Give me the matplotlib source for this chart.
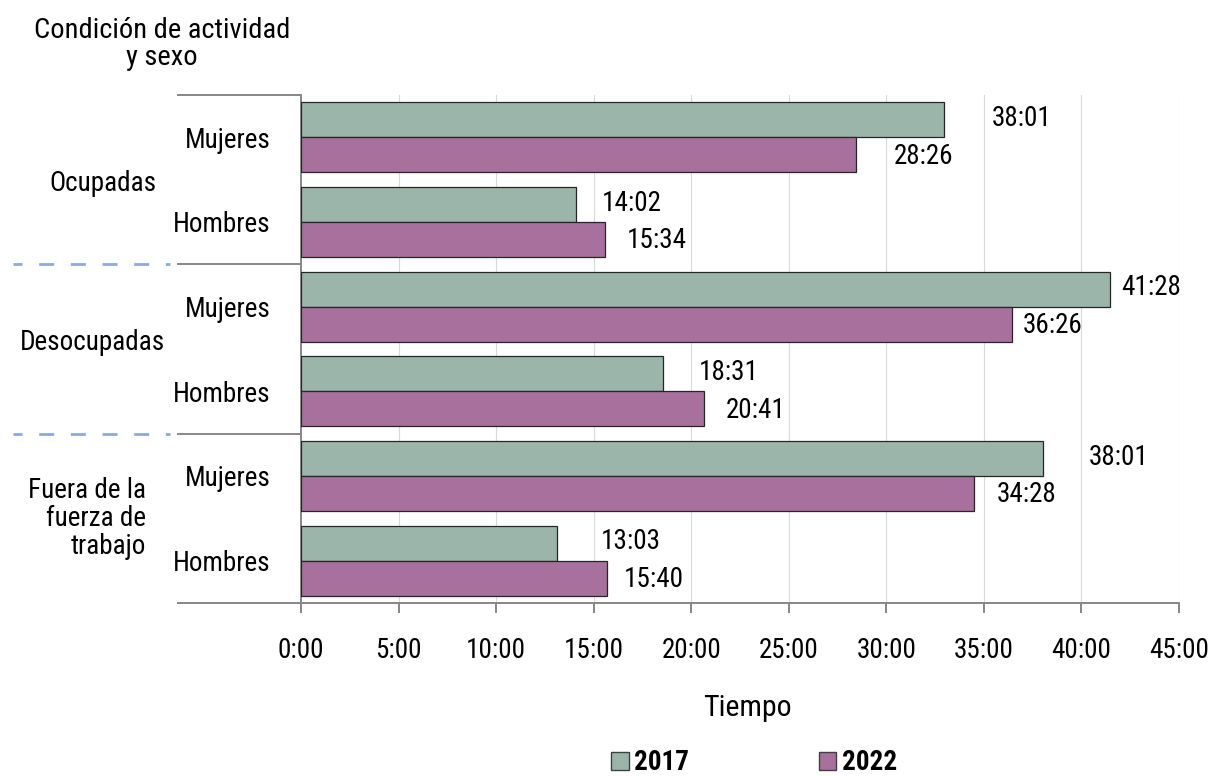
import matplotlib
matplotlib.use("Agg")
import matplotlib.pyplot as plt
import matplotlib.transforms as mtransforms
from matplotlib import font_manager
from matplotlib.patches import Patch
import numpy as np

# datos (horas semanales)
grupos = ["Ocupadas", "Desocupadas", "Fuera de la\nfuerza de\ntrabajo"]
sexos = ["Mujeres", "Hombres", "Mujeres", "Hombres", "Mujeres", "Hombres"]
horas_2017 = [32.97, 14.08, 41.47, 18.55, 38.02, 13.10]
horas_2022 = [28.43, 15.60, 36.45, 20.67, 34.47, 15.70]
etiq_2017 = ["38:01", "14:02", "41:28", "18:31", "38:01", "13:03"]
etiq_2022 = ["28:26", "15:34", "36:26", "20:41", "34:28", "15:40"]
ticks_h = list(range(0, 50, 5))
anios = ["2017", "2022"]

# estilo
VERDE = "#9bb5ab"
MORADO = "#a8709c"
BORDE = "#262626"
GRIS = "#878787"
REJILLA = "#d9d9d9"
AZUL = "#8eaad8"
FS = 19.5
W, H = 1213, 776

# separacion (px) entre fin de barra y etiqueta, como en el original
pad_2017 = [47, 26, 11, 36, 46, 44]
pad_2022 = [38, 21, 11, 21, 23, 16]

nombres = {f.name for f in font_manager.fontManager.ttflist}
FUENTE = "DejaVu Sans"
for fam in ["Liberation Sans Narrow", "DejaVu Sans Condensed", "Roboto Condensed", "Open Sans"]:
    if fam in nombres:
        FUENTE = fam
        break
plt.rcParams["font.family"] = [FUENTE, "DejaVu Sans"]
plt.rcParams["font.size"] = FS
plt.rcParams["lines.scale_dashes"] = False

fig = plt.figure(figsize=(W / 100, H / 100), dpi=100)
ax = fig.add_axes([301 / W, 1 - 603 / H, 878 / W, 508 / H])

y = np.arange(len(sexos))
h = 0.413
ax.barh(y - h / 2, horas_2017, height=h, color=VERDE, edgecolor=BORDE, linewidth=0.9, zorder=3)
ax.barh(y + h / 2, horas_2022, height=h, color=MORADO, edgecolor=BORDE, linewidth=0.9, zorder=3)

for i in range(len(sexos)):
    ax.annotate(etiq_2017[i], (horas_2017[i], y[i] - h / 2), xytext=(pad_2017[i] * 0.72, 1),
                textcoords="offset points", ha="left", va="center", fontsize=FS)
    ax.annotate(etiq_2022[i], (horas_2022[i], y[i] + h / 2), xytext=(pad_2022[i] * 0.72, -1),
                textcoords="offset points", ha="left", va="center", fontsize=FS)

ax.set_xlim(0, 45)
ax.set_ylim(len(sexos) - 0.5, -0.5)
ax.set_xticks(ticks_h)
ax.set_xticklabels([f"{t}:00" for t in ticks_h], fontsize=FS)
ax.set_yticks(y)
ax.set_yticklabels(sexos, fontsize=FS)
ax.tick_params(axis="y", length=0, pad=22)
ax.tick_params(axis="x", length=7.2, width=1.4, color=GRIS, pad=17)
ax.grid(axis="x", color=REJILLA, linewidth=0.8, zorder=0)
ax.set_axisbelow(True)
for s in ["top", "right"]:
    ax.spines[s].set_visible(False)
for s in ["left", "bottom"]:
    ax.spines[s].set_color(GRIS)
    ax.spines[s].set_linewidth(1.4)

# marco de categorias a la izquierda
trans = mtransforms.blended_transform_factory(ax.transAxes, ax.transData)
for yb in [-0.5, 1.5, 3.5, 5.5]:
    ax.plot([(177 - 301) / 878, 0], [yb, yb], transform=trans, clip_on=False,
            color=GRIS, linewidth=1.4, solid_capstyle="butt")
for yb in [1.5, 3.5]:
    ax.plot([(13 - 301) / 878, (170 - 301) / 878], [yb, yb], transform=trans, clip_on=False,
            color=AZUL, linewidth=2.0, linestyle=(4.3, (10.8, 12.0)))

tg = mtransforms.blended_transform_factory(fig.transFigure, ax.transData)
ax.text(103 / W, 0.54, grupos[0], transform=tg, ha="center", va="center", fontsize=FS)
ax.text(92 / W, 2.42, grupos[1], transform=tg, ha="center", va="center", fontsize=FS)
ax.text(146 / W, 4.5, grupos[2], transform=tg, ha="right", va="center", fontsize=FS,
        multialignment="right", linespacing=1.05)

fig.text(162 / W, 1 - 44 / H, "Condición de actividad\ny sexo", ha="center", va="center",
         fontsize=20.5, linespacing=1.02)
fig.text(747 / W, 1 - 708 / H, "Tiempo", ha="center", va="center", fontsize=21.5)

manijas = [Patch(facecolor=VERDE, edgecolor="#404040", linewidth=1.0),
           Patch(facecolor=MORADO, edgecolor="#404040", linewidth=1.0)]
fig.legend(manijas, anios, loc="center", bbox_to_anchor=(754 / W, 1 - 763 / H), ncol=2,
           frameon=False, prop={"weight": "bold", "size": FS}, handlelength=0.65,
           handleheight=0.65, handletextpad=0.2, columnspacing=4.8)

fig.savefig("out.png", dpi=100)
